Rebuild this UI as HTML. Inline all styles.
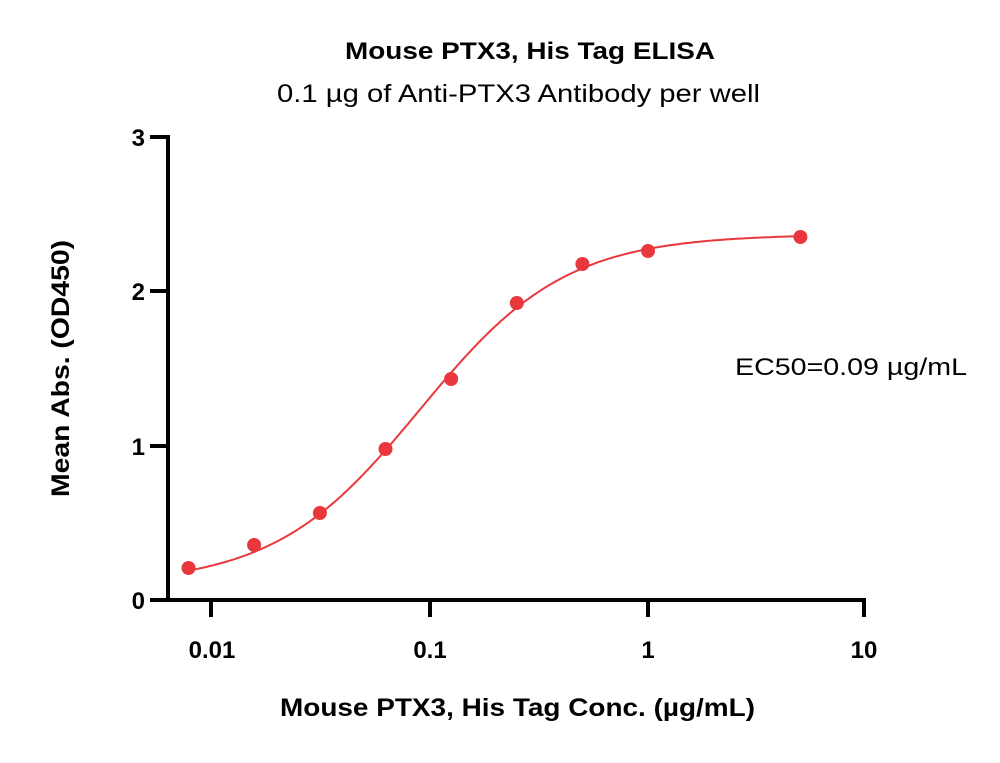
<!DOCTYPE html>
<html><head><meta charset="utf-8"><style>
body{margin:0;background:#fff;}
text{font-family:"Liberation Sans",sans-serif;}
</style></head><body>
<svg id="s" width="1000" height="758" xmlns="http://www.w3.org/2000/svg">
<text x="345" y="59" font-size="24" font-weight="bold" textLength="370" lengthAdjust="spacingAndGlyphs">Mouse PTX3, His Tag ELISA</text>
<text x="277" y="102" font-size="25" textLength="483" lengthAdjust="spacingAndGlyphs">0.1 µg of Anti-PTX3 Antibody per well</text>
<g stroke="#000" stroke-width="4" fill="none">
<line x1="168" y1="135" x2="168" y2="602"/>
<line x1="166" y1="600" x2="866" y2="600"/>
<line x1="150" y1="137" x2="168" y2="137"/>
<line x1="150" y1="291" x2="168" y2="291"/>
<line x1="150" y1="446" x2="168" y2="446"/>
<line x1="150" y1="600" x2="168" y2="600"/>
<line x1="211" y1="600" x2="211" y2="617"/>
<line x1="430" y1="600" x2="430" y2="617"/>
<line x1="648" y1="600" x2="648" y2="617"/>
<line x1="864" y1="600" x2="864" y2="617"/>
</g>
<g font-size="24" font-weight="bold" text-anchor="end">
<text x="145" y="146">3</text><text x="145" y="300">2</text><text x="145" y="455">1</text><text x="145" y="609">0</text>
</g>
<g font-size="24" font-weight="bold" text-anchor="middle">
<text x="212" y="658">0.01</text><text x="430" y="658">0.1</text><text x="648" y="658">1</text><text x="864" y="658">10</text>
</g>
<text x="280" y="716" font-size="25" font-weight="bold" textLength="475" lengthAdjust="spacingAndGlyphs">Mouse PTX3, His Tag Conc. (µg/mL)</text>
<text transform="translate(69,497) rotate(-90)" font-size="25" font-weight="bold" textLength="257" lengthAdjust="spacingAndGlyphs">Mean Abs. (OD450)</text>
<text x="735" y="375" font-size="24" textLength="232" lengthAdjust="spacingAndGlyphs">EC50=0.09 µg/mL</text>
<path id="c" fill="none" stroke="#e8383d" stroke-width="2"/>
<g id="d" fill="#e8383d"></g>
</svg>
<script>
function px(x){return 430+218*Math.log10(x/0.1);}
function py(y){return 600-154.3*y;}
function f(x){var t=Math.pow(x/0.09,1.3);return 0.1+2.27*t/(1+t);}
var d="";for(var i=0;i<=200;i++){var lx=Math.log10(0.0078)+(Math.log10(5)-Math.log10(0.0078))*i/200;var x=Math.pow(10,lx);d+=(i?"L":"M")+px(x).toFixed(1)+" "+py(f(x)).toFixed(1);}
document.getElementById("c").setAttribute("d",d);
var pts=[[0.0078,568],[0.0156,545],[0.03125,513],[0.0625,449],[0.125,379],[0.25,303],[0.5,264],[1,251],[5,237]];
var g=document.getElementById("d"),h="";
pts.forEach(function(p){h+='<circle cx="'+px(p[0]).toFixed(1)+'" cy="'+p[1]+'" r="7"/>';});
g.innerHTML=h;
</script>
</body></html>
